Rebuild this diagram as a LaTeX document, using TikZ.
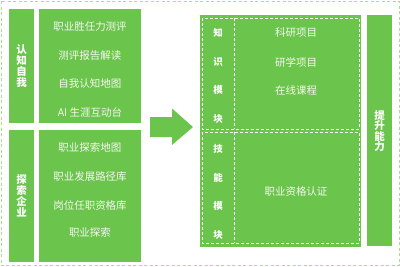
\documentclass[tikz,border=0pt]{standalone}
\usepackage{fontspec}
\setmainfont{Noto Sans CJK SC}
\usetikzlibrary{positioning}
\definecolor{gr}{HTML}{6BC44B}
\definecolor{lgr}{HTML}{A9DD93}
\definecolor{txt}{HTML}{F4F8F0}
\begin{document}
\begin{tikzpicture}[x=1pt,y=-1pt,
  box/.style={fill=gr,draw=none,inner sep=0pt,anchor=north west},
  item/.style={text=txt,font=\fontsize{10.5}{12}\selectfont,inner sep=0pt},
  vlabel/.style={text=white,font=\bfseries\fontsize{10.5}{11}\selectfont,align=center,inner sep=0pt},
  vlabelw/.style={text=white,font=\bfseries\fontsize{9.5}{28.7}\selectfont,align=center,inner sep=0pt},
  wdash/.style={draw=white,line width=0.8pt,dash pattern=on 3pt off 2pt}]
\useasboundingbox (0,0) rectangle (400,266);
% outer border
\draw[lgr,line width=1pt,dash pattern=on 3pt off 2.5pt] (1,1) rectangle (399,265);
% left column
\node[box,minimum width=25pt,minimum height=114pt] (lab1) at (9,9) {};
\node[box,minimum width=102pt,minimum height=114pt] (con1) at (39,9) {};
\node[box,minimum width=25pt,minimum height=132pt] (lab2) at (9,130) {};
\node[box,minimum width=102pt,minimum height=132pt] (con2) at (39,130) {};
\node[vlabel] at (lab1.center) {认\\知\\自\\我};
\node[vlabel] at ([yshift=-0pt]lab2.center) {探\\索\\企\\业};
\node[item] (a1) at (90,27) {职业胜任力测评};
\node[item] (a2) at (90,56) {测评报告解读};
\node[item] (a3) at (90,83.5) {自我认知地图};
\node[item] (a4) at (90,112) {AI 生涯互动台};
\node[item] (b1) at (90,148) {职业探索地图};
\node[item] (b2) at (90,177) {职业发展路径库};
\node[item] (b3) at (90,205) {岗位任职资格库};
\node[item] (b4) at (90,233) {职业探索};
% arrow
\fill[gr] (150,117) -- (172,117) -- (172,108.5) -- (193,127) -- (172,145) -- (172,137) -- (150,137) -- cycle;
% right big box
\node[box,minimum width=161pt,minimum height=232pt] (rb) at (200,15) {};
\coordinate (t1) at (202,18);
\coordinate (t2) at (359,129);
\coordinate (s1) at (202,132);
\coordinate (s2) at (359,243);
\draw[wdash] (t1) rectangle (t2);
\draw[wdash] (s1) rectangle (s2);
\draw[wdash] (234,18) -- (234,129);
\draw[wdash] (234,132) -- (234,243);
\node[vlabelw] (k) at (218,76) {知\\识\\模\\块};
\node[vlabelw] (j) at (218,192) {技\\能\\模\\块};
\node[item] (c1) at (296,33) {科研项目};
\node[item] (c2) at (296,62) {研学项目};
\node[item] (c3) at (296,90) {在线课程};
\node[item] (c4) at (296,192) {职业资格认证};
% right label
\node[box,minimum width=25pt,minimum height=231pt] (rl) at (367,15) {};
\node[vlabel,font=\bfseries\fontsize{10.5}{10}\selectfont] at (rl.center) {提\\升\\能\\力};
\end{tikzpicture}
\end{document}
